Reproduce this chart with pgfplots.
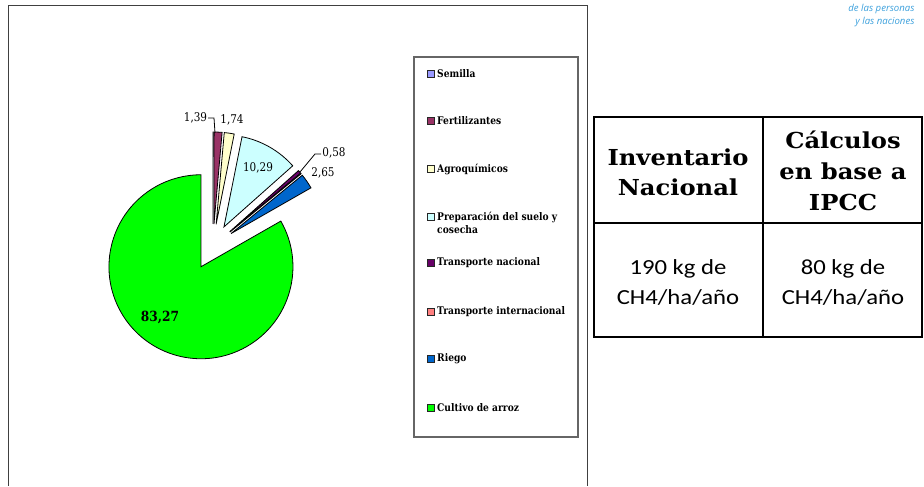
\documentclass[border=0pt]{standalone}
\usepackage{fontspec}
\usepackage{pgfplots}
\usepackage{pgfplotstable}
\pgfplotsset{compat=1.18}
\setmainfont{DejaVu Serif}
\newfontfamily\lblfont[FakeStretch=0.87]{DejaVu Serif}
\newfontfamily\hdrfont[FakeStretch=1.1]{DejaVu Serif}
\newfontfamily\tblfont[FakeStretch=1.15]{Carlito}
\newfontfamily\logofont{Open Sans}

\definecolor{pc0}{HTML}{9999FF}
\definecolor{pc1}{HTML}{993366}
\definecolor{pc2}{HTML}{FFFFCC}
\definecolor{pc3}{HTML}{CCFFFF}
\definecolor{pc4}{HTML}{660066}
\definecolor{pc5}{HTML}{FF8080}
\definecolor{pc6}{HTML}{0066CC}
\definecolor{pc7}{HTML}{00FF00}
\definecolor{logoblue}{RGB}{60,160,220}

% shares (%), clockwise from 12 o'clock
\pgfplotstableread[col sep=comma]{
name,value,explode
Semilla,0.02,22
Fertilizantes,1.39,22
Agroquimicos,1.74,22
Preparacion,10.29,22
Transporte nacional,0.58,22
Transporte internacional,0.06,22
Riego,2.65,22
Cultivo de arroz,83.27,24
}\piedata

% cumulative angles of the wedges
\gdef\acc{90}
\foreach \i in {0,...,7}{%
  \pgfplotstablegetelem{\i}{value}\of\piedata
  \pgfmathsetmacro\s{\acc}%
  \pgfmathsetmacro\e{\acc-3.6*\pgfplotsretval}%
  \pgfmathsetmacro\m{(\s+\e)/2}%
  \pgfplotstablegetelem{\i}{explode}\of\piedata
  \pgfmathsetmacro\cx{213+\pgfplotsretval*cos(\m)}%
  \pgfmathsetmacro\cy{240+\pgfplotsretval*sin(\m)}%
  \expandafter\xdef\csname angS\i\endcsname{\s}%
  \expandafter\xdef\csname angE\i\endcsname{\e}%
  \expandafter\xdef\csname cenX\i\endcsname{\cx}%
  \expandafter\xdef\csname cenY\i\endcsname{\cy}%
  \xdef\acc{\e}%
}

% one legend entry: colour index, y, text
\newcommand\legentry[3]{%
  \filldraw[fill=pc#1, draw=black!85, line width=0.7pt] (427.5,#2-3.5) rectangle (434.5,#2+3.5);
  \node[anchor=west, inner sep=0pt] at (437,#2) {#3};
}

\begin{document}
\begin{tikzpicture}
\begin{axis}[
    at={(0,0)}, anchor=south west,
    scale only axis, width=924pt, height=486pt,
    xmin=0, xmax=924, ymin=0, ymax=486,
    hide axis, clip=false,
]
\path (0,0) rectangle (924,486);
% chart frame (its bottom edge lies below the picture) and legend frame
\draw[draw=black!75, line width=0.8pt] (8,0) -- (8,481) -- (587,481) -- (587,0);
\draw[draw=black!60, line width=1.2pt] (414,49) rectangle (578,429);

% wedges
\pgfplotsinvokeforeach{0,...,7}{
  \filldraw[fill=pc#1, draw=black, line width=0.8pt]
    (\csname cenX#1\endcsname,\csname cenY#1\endcsname)
    -- ++(\csname angS#1\endcsname:92pt)
    arc[start angle=\csname angS#1\endcsname, end angle=\csname angE#1\endcsname, radius=92pt]
    -- cycle;
}

% data labels
\begin{scope}[font=\lblfont\fontsize{12}{14}\selectfont]
\node at (195.5,368) {1,39};
\node at (232,366) {1,74};
\node at (258,318) {10,29};
\node at (334,333) {0,58};
\node at (323,313) {2,65};
\node[font=\lblfont\bfseries\fontsize{14}{16}\selectfont] at (160,169) {83,27};
\end{scope}
\draw[line width=0.8pt] (208,368) -- (214,368) -- (215,353);
\draw[line width=0.8pt] (321,332) -- (315,332) -- (300,314);

% legend
\begin{scope}[font=\lblfont\bfseries\fontsize{10.5}{12.5}\selectfont]
\legentry{0}{412}{Semilla}
\legentry{1}{365}{Fertilizantes}
\legentry{2}{317}{Agroquímicos}
\legentry{3}{269}{Preparación del suelo y}
\node[anchor=west, inner sep=0pt] at (437,256) {cosecha};
\legentry{4}{223}{Transporte nacional}
\legentry{5}{174}{Transporte internacional}
\legentry{6}{127}{Riego}
\legentry{7}{78}{Cultivo de arroz}
\end{scope}

% table
\draw[line width=1.2pt] (763,369) -- (763,149);
\draw[line width=1.2pt] (594,263) -- (923,263);
\draw[line width=2.6pt] (594,369) rectangle (922,149);
\node[align=center, font=\hdrfont\bfseries\fontsize{22}{30}\selectfont] at (678,314) {Inventario\\Nacional};
\node[align=center, font=\hdrfont\bfseries\fontsize{22}{31}\selectfont] at (843,315) {Cálculos\\en base a\\IPCC};
\node[align=center, font=\tblfont\fontsize{21.5}{30}\selectfont] at (678,204) {190 kg de\\CH4/ha/año};
\node[align=center, font=\tblfont\fontsize{21.5}{30}\selectfont] at (843,204) {80 kg de\\CH4/ha/año};

% logo text
\node[anchor=east, text=logoblue, font=\logofont\itshape\fontsize{9.6}{10}\selectfont] at (918,477) {de las personas};
\node[anchor=east, text=logoblue, font=\logofont\itshape\fontsize{9.6}{10}\selectfont] at (918,464) {y las naciones};
\end{axis}
\end{tikzpicture}
\end{document}
